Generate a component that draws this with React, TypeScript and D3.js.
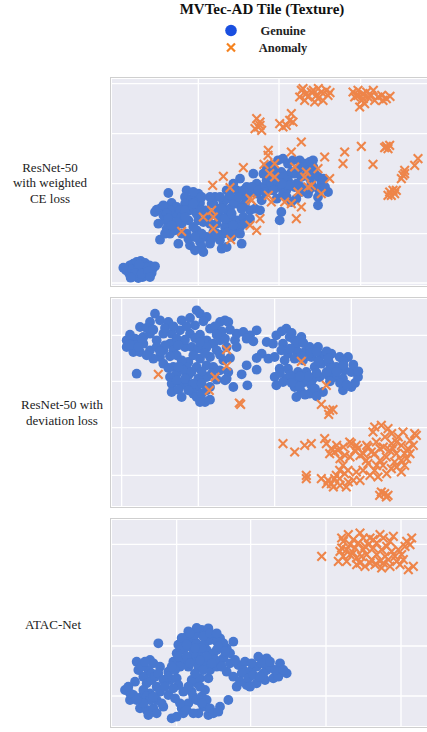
import React from "react";
import * as d3 from "d3";

type Pt = [number, number];

// ---------- data (t-SNE embedding units) ----------
const p1Genuine: Pt[] = [
  [50,55],[60,65],[70,70],[80,75],[92,78],[105,72],[118,65],[128,55],[125,42],[112,35],[98,30],[85,27],[72,32],[58,40],[48,50],[65,52],[85,55],[100,52],[110,58],[75,42],[95,40],[88,68],[115,47],[40,58],[135,62],[62,28],[120,30],
  [175,282],[185,252],[140,232],[135,225],[150,235],[145,190],[165,200],[170,175],[190,220],[195,190],[180,160],[150,142],[205,130],[215,160],[230,290],[225,270],[245,265],[265,280],[270,252],[240,230],[235,200],[215,190],[240,125],[260,170],[280,105],[270,135],[290,150],[300,130],[310,165],[320,190],[330,210],[340,255],[315,270],[355,265],[350,230],[360,200],[380,290],[390,325],[395,275],[405,250],[410,300],[430,340],[440,310],[420,230],[435,235],[455,260],[460,300],[470,320],[395,130],[375,170],[330,140],[335,115],[300,190],[265,200],[250,180],[200,215],[160,215],[225,250],[255,255],[285,230],[310,250],[345,180],[365,150],[380,200],[400,210],[450,230],[415,280],[380,250],[350,290],[370,310],
  [200,240],[180,230],[250,285],[290,205],[325,235],[360,235],[340,160],[390,180],[440,280],[480,290],[275,160],[230,160],[195,170],
  [160,245],[170,220],[175,205],[210,230],[215,210],[225,230],[250,240],[260,220],[275,230],[280,195],[300,215],[305,250],[320,220],[335,235],[345,205],[365,220],[370,255],[395,235],[410,265],[425,300],[445,290],[465,285],[400,290],[385,270],[360,275],[330,270],[300,270],[275,270],[250,250],[225,210],[200,195],[185,185],[165,160],[235,145],[255,150],[275,120],[305,145],[320,160],[355,165],[370,185],[405,190],[420,205],[390,160],[350,120],[255,110],
  [484,365],[504,380],[519,385],[534,370],[549,380],[569,380],[584,370],[599,375],[609,380],[494,340],[514,345],[534,335],[554,340],[574,330],[589,335],[614,340],[634,310],[654,285],[624,270],[624,245],[514,225],[509,200],[484,310],[504,300],[529,290],[554,300],[574,300],[604,310],[534,320],[479,330],[519,280],[559,265],[594,280],[544,255],[574,285],
  [490,350],[500,320],[520,330],[545,345],[565,355],[580,360],[595,350],[610,360],[625,330],[640,325],[600,325],[560,310],[540,305],[515,310],[490,290],[530,270],[600,295],[625,295],[645,300],[470,360],[460,340],[500,265]
];
const p1Anomaly: Pt[] = [
  [440,505],[450,495],[445,480],[435,475],[455,470],[450,485],
  [475,410],[462,368],[400,358],[340,332],[308,305],[360,298],[425,260],[420,265],[475,275],[450,205],[420,185],[440,170],[280,210],[305,230],[310,210],[310,175],[215,167],[362,142],
  [574,590],[589,580],[569,570],[584,560],[604,585],[619,575],[634,585],[649,590],[639,560],[624,565],[654,575],[579,595],[614,555],[594,570],[610,590],[660,583],[625,595],
  [729,585],[744,590],[759,580],[734,570],[754,560],[774,570],[764,550],[784,575],[794,560],[804,570],[819,560],[829,565],[749,540],[739,575],[744,575],[770,585],[790,590],[815,575],[840,572],[760,565],
  [544,520],[539,500],[549,495],[509,490],[529,485],[519,480],
  [574,435],[704,405],[699,370],[754,422],[789,368],[829,422],[839,425],[834,415],[824,418],
  [924,385],[914,365],[884,350],[879,335],[874,325],[884,340],
  [839,285],[849,290],[854,280],[834,275],[844,275],[859,290],
  [474,395],[544,405],[494,370],[479,340],[494,330],[554,360],[589,345],[584,330],[644,390],[624,355],[659,325],[604,305],[594,300],[634,280],[564,285],[524,255],[544,250],[484,255],[574,240],[559,205]
];

const p2Genuine: Pt[] = [
  [135,583],[150,563],[120,558],[90,543],[175,558],[215,563],[260,593],[270,583],[290,573],[330,558],[345,563],[355,558],[255,548],[300,538],[210,533],[185,523],[160,523],[120,523],[100,513],[75,508],[50,503],[50,483],[75,488],[100,493],[140,503],[180,493],[200,508],[240,523],[290,503],[310,493],[330,503],[345,508],[375,503],[380,523],[400,528],[420,518],[440,533],[410,508],[470,498],[455,463],[475,448],[70,468],[90,468],[120,473],[160,473],[190,473],[225,483],[245,483],[265,478],[290,483],[320,473],[300,453],[270,448],[235,438],[200,458],[150,453],[130,448],[110,458],[160,433],[190,423],[230,423],[260,423],[290,428],[310,423],[340,443],[330,413],[355,408],[350,388],[290,393],[265,388],[235,398],[200,403],[180,393],[185,373],[215,368],[235,373],[260,363],[250,343],[260,333],[275,343],[300,363],[185,348],[80,403],[410,428],[440,415],[395,401],[412,368],[345,383],[370,363],[285,318],[220,413],
  [110,540],[130,535],[165,540],[190,545],[230,545],[240,570],[280,560],[315,545],[335,530],[360,535],[225,505],[255,510],[270,520],[320,520],[140,483],[165,488],[95,508],[60,520],[60,490],[85,483],[205,488],[270,498],[350,483],[380,483],[430,500],[150,470],[180,455],[215,443],[250,458],[285,465],[330,460],[360,450],[175,420],[205,423],[245,408],[275,410],[305,403],[320,385],[200,383],[225,388],[250,373],[275,373],[290,353],[235,353],[205,355],[215,333],[270,318],[300,325],[440,450],
  [529,538],[499,518],[539,513],[574,513],[519,493],[554,503],[489,493],[514,473],[534,463],[559,473],[584,468],[599,483],[624,483],[494,453],[524,443],[554,448],[579,443],[604,453],[634,458],[664,463],[689,453],[714,453],[509,418],[534,418],[564,408],[589,408],[614,423],[634,433],[659,433],[679,423],[704,413],[724,408],[744,393],[494,393],[499,368],[529,388],[559,388],[584,378],[609,388],[629,393],[654,398],[674,393],[699,388],[724,363],[699,353],[554,363],[574,348],[599,343],[559,333],[604,368],[639,348],[664,418],[519,378],
  [515,530],[545,525],[560,495],[580,495],[540,478],[600,465],[620,468],[650,470],[575,455],[625,440],[655,448],[700,440],[730,430],[700,428],[680,408],[650,408],[620,405],[595,395],[570,395],[540,400],[510,405],[545,375],[570,365],[615,358],[585,340],[620,335],[660,380],[690,375],[745,410],[735,375],[710,370]
];
const p2Anomaly: Pt[] = [
  [145,401],[350,475],[350,426],[315,393],[298,353],[388,315],[392,311],
  [574,440],[649,368],[634,311],[659,293],[669,295],[656,281],
  [519,193],[554,168],[584,188],[604,193],[644,208],[649,193],[664,178],[674,168],[684,173],[659,163],[719,198],[739,188],[744,178],[734,173],[774,183],[799,198],[794,243],[814,248],[834,238],[789,228],[879,228],[914,223],[919,218],[849,178],[874,188],[894,178],[859,163],[884,163],[829,153],[874,143],[854,138],[819,128],[844,118],[874,108],[804,93],[769,143],[759,113],[739,108],[714,113],[699,128],[704,103],[689,88],[674,88],[654,83],[634,88],[589,98],[589,88],[664,73],[709,63],[679,98],[814,48],[824,43],[834,38],[809,38],[829,33],[784,168],[794,163],[724,193],[689,113],[649,73],[884,128],[839,173],[774,133],[794,113],
  [680,188],[700,183],[705,158],[690,148],[720,153],[750,158],[760,163],[770,188],[810,178],[820,183],[845,193],[860,198],[865,213],[900,203],[890,148],[860,123],[830,103],[810,143],[800,128],[780,98],[750,83],[730,83],[690,68],[715,78],[670,63],[825,213],[845,223],[900,163],[910,188]
];

const p3Genuine: Pt[] = [
  [145,254],[80,199],[45,114],[60,84],[75,139],[90,59],[110,54],[120,204],[130,194],[150,184],[115,174],[100,154],[110,134],[125,144],[140,124],[120,104],[95,94],[150,109],[175,169],[180,144],[175,99],[160,64],[130,59],[185,29],[215,59],[235,74],[250,94],[260,84],[275,94],[290,84],[295,39],[330,64],[355,84],[245,109],[260,134],[245,144],[270,149],[295,149],[300,174],[320,184],[340,209],[350,239],[370,259],[230,274],[245,264],[275,294],[295,299],[310,274],[330,269],[340,254],[200,224],[190,199],[215,199],[235,184],[265,184],[285,194],[265,224],[290,234],[310,224],[240,244],[260,254],[285,254],[220,234],[225,259],[350,169],[370,154],[380,124],[385,189],[405,199],[410,129],[420,169],[440,184],[445,214],[470,209],[470,174],[465,144],[490,149],[505,154],[510,194],[530,164],[440,134],[400,174],[360,224],[175,154],[200,149],
  [205,214],[320,234],[250,204],[300,264],[100,114],[140,84],[70,99],[280,64],[265,44],[220,44],
  [205,250],[215,270],[235,290],[255,280],[280,275],[300,284],[320,260],[325,244],[345,230],[330,200],[315,205],[290,214],[270,204],[250,224],[230,214],[210,184],[195,174],[185,184],[240,194],[255,164],[280,174],[305,194],[335,184],[360,194],[275,240],[255,240],[230,250],[320,284],[260,300],[240,284],
  [85,174],[95,184],[105,199],[125,164],[135,154],[145,164],[160,144],[110,94],[120,84],[100,74],[80,84],[60,104],[55,124],[130,94],[165,124],[155,74],[140,44],[115,39],[200,34],[230,54],[250,44],[210,74],[195,89],[275,74],[300,59],[310,44],[325,49],[235,124],[220,109],[205,129],[190,119],[285,114],[270,124],
  [375,204],[395,164],[415,149],[430,159],[455,194],[480,184],[495,174],[520,174],[460,164],[425,194],[390,139],[420,124],[450,154],[480,199]
];
const p3Anomaly: Pt[] = [
  [635,515],[695,570],[715,580],[750,585],[780,570],[810,580],[850,575],[695,540],[720,550],[745,555],[775,550],[800,555],[830,545],[865,535],[890,560],[900,550],[685,500],[710,500],[740,510],[770,520],[800,520],[825,515],[690,530],[815,480],[840,485],[870,490],[910,485],[895,475],[750,495],[780,495],[720,520],[835,505],[795,490],[855,515],[760,535],
  [700,560],[730,565],[760,570],[790,565],[820,570],[840,560],[710,535],[735,540],[765,545],[790,540],[815,535],[845,530],[875,520],[700,515],[730,525],[755,515],[785,505],[810,500],[860,500],[885,545],[905,570],[880,505],[765,485],[740,490],[820,495]
];

const p1XTicks = [265, 507, 752];
const p1YTicks = [12, 160, 310, 460, 610];
const p2XTicks = [35, 265, 494, 724];
const p2YTicks = [98, 241, 380, 518];
const p3XTicks = [200, 422, 648, 873];
const p3YTicks = [96, 246, 397, 551];

const rowLabels = [
  ["ResNet-50", "with weighted", "CE loss"],
  ["ResNet-50 with", "deviation loss"],
  ["ATAC-Net"],
];
const legendLabels = ["Genuine", "Anomaly"];
const title = "MVTec-AD Tile (Texture)";

// ---------- layout ----------
const W = 427;
const H = 732;
const BLUE = "#4878d0";
const ORANGE = "#ee854a";
const SERIF = "'Liberation Serif', 'Times New Roman', Times, serif";

const panelDefs = [
  { genuine: p1Genuine, anomaly: p1Anomaly, xt: p1XTicks, yt: p1YTicks, top: 77, bottom: 287, yMax: 630, labelX: 50, labelY: 171.5 },
  { genuine: p2Genuine, anomaly: p2Anomaly, xt: p2XTicks, yt: p2YTicks, top: 297, bottom: 508, yMax: 633, labelX: 62, labelY: 409 },
  { genuine: p3Genuine, anomaly: p3Anomaly, xt: p3XTicks, yt: p3YTicks, top: 518, bottom: 728, yMax: 630, labelX: 53, labelY: 629 },
];

const LEFT = 110;
const XMAX = 951;

function Cross({ x, y, s, color, w }: { x: number; y: number; s: number; color: string; w: number }) {
  return (
    <path
      d={`M${x - s},${y - s}L${x + s},${y + s}M${x - s},${y + s}L${x + s},${y - s}`}
      stroke={color}
      strokeWidth={w}
      fill="none"
    />
  );
}

export default function App() {
  return (
    <svg
      width={W}
      height={H}
      viewBox={`0 0 ${W} ${H}`}
      style={{ position: "absolute", left: 0, top: 0, background: "#fff" }}
    >
      <rect x={0} y={0} width={W} height={H} fill="#fff" />
      <text x={262} y={14} textAnchor="middle" fontFamily={SERIF} fontWeight="bold" fontSize={15} fill="#111">
        {title}
      </text>
      <circle cx={231} cy={30.5} r={5.8} fill="#1a4fe0" />
      <text x={283} y={34.5} textAnchor="middle" fontFamily={SERIF} fontWeight="bold" fontSize={12.5} fill="#222">
        {legendLabels[0]}
      </text>
      <Cross x={231} y={47.5} s={4} color="#f5821f" w={2.2} />
      <text x={283} y={51.5} textAnchor="middle" fontFamily={SERIF} fontWeight="bold" fontSize={12.5} fill="#222">
        {legendLabels[1]}
      </text>

      {panelDefs.map((p, i) => {
        const x = d3.scaleLinear().domain([0, XMAX]).range([LEFT, LEFT + XMAX / 3]);
        const y = d3.scaleLinear().domain([0, p.yMax]).range([p.bottom, p.top]);
        const pTop = p.top + 2;
        const pBot = p.bottom - 2;
        const lines = rowLabels[i];
        return (
          <g key={i}>
            <rect x={LEFT + 0.5} y={p.top + 0.5} width={340} height={p.bottom - p.top - 1} fill="#fff" stroke="#cfcfcf" strokeWidth={1} />
            <rect x={LEFT + 2} y={pTop} width={340} height={pBot - pTop} fill="#eaeaf2" />
            {p.xt.map((t) => (
              <line key={"x" + t} x1={x(t)} x2={x(t)} y1={pTop} y2={pBot} stroke="#fff" strokeWidth={1.3} />
            ))}
            {p.yt.map((t) => (
              <line key={"y" + t} x1={LEFT + 2} x2={W} y1={y(t)} y2={y(t)} stroke="#fff" strokeWidth={1.3} />
            ))}
            {p.genuine.map((d, j) => (
              <circle key={"g" + j} cx={x(d[0])} cy={y(d[1])} r={4.9} fill={BLUE} />
            ))}
            {p.anomaly.map((d, j) => (
              <Cross key={"a" + j} x={x(d[0])} y={y(d[1])} s={4.3} color={ORANGE} w={2.1} />
            ))}
            {lines.map((l, k) => (
              <text
                key={k}
                x={p.labelX}
                y={p.labelY + k * 15.5}
                textAnchor="middle"
                fontFamily={SERIF}
                fontSize={13}
                fill="#222"
              >
                {l}
              </text>
            ))}
          </g>
        );
      })}
    </svg>
  );
}
